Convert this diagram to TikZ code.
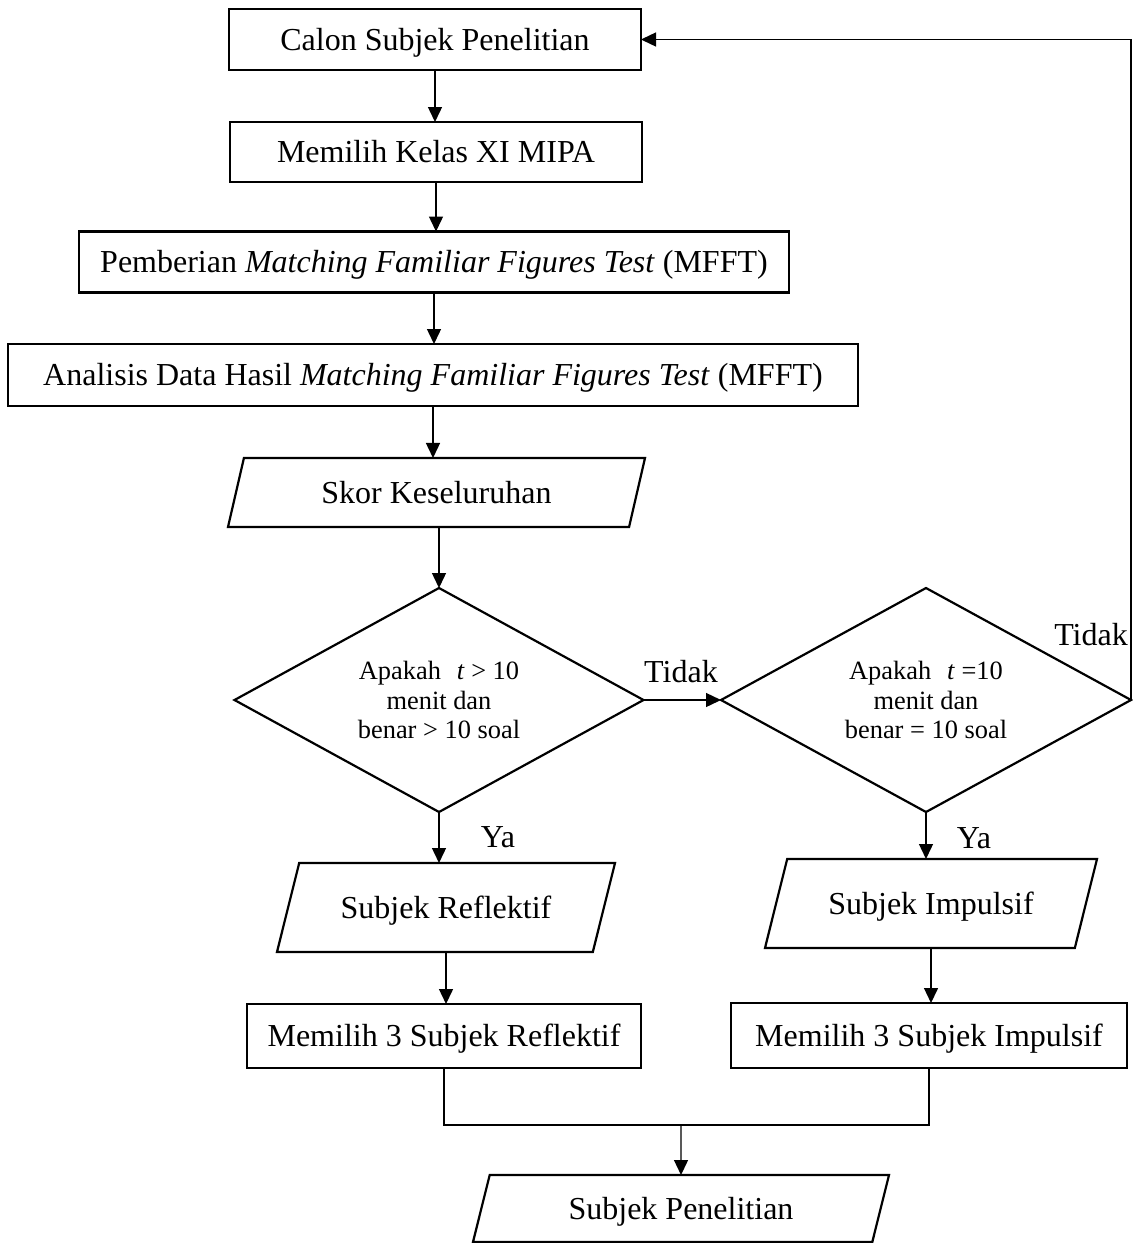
\documentclass[tikz,border=0pt]{standalone}
\usepackage{fontspec}
\setmainfont{Liberation Serif}
\usetikzlibrary{shapes.geometric,arrows.meta}
\newcommand{\boxfont}{\fontsize{32}{36}\selectfont}
\newcommand{\askfont}{\fontsize{26.4}{29.5}\selectfont}

\begin{document}
\begin{tikzpicture}[x=1pt,y=-1pt,
  base/.style={draw, line width=2.2pt, inner sep=0pt, outer sep=0pt,
    font=\boxfont, text height=21pt, text depth=0pt},
  procbox/.style={base, rectangle},
  iobox/.style={base, trapezium, trapezium stretches body=true,
    trapezium left angle=76, trapezium right angle=104},
  decision/.style={diamond, draw, line width=2.2pt, inner sep=0pt, outer sep=0pt,
    font=\askfont, align=center, shape aspect=1.8},
  flow/.style={line width=1.4pt, -{Triangle[length=15pt,width=14pt]}},
  link/.style={line width=1.4pt},
  lbl/.style={font=\boxfont, inner sep=0pt}
]
\useasboundingbox (0,0) rectangle (1133,1243);

% main column
\node[procbox, minimum width=412pt, minimum height=61pt] (calon) at (435,39.5) {Calon Subjek Penelitian};
\node[procbox, minimum width=412pt, minimum height=60pt] (kelas) at (436,152) {Memilih Kelas XI MIPA};
\node[procbox, minimum width=710pt, minimum height=61pt] (beri) at (434,262) {Pemberian \textit{Matching Familiar Figures Test} (MFFT)};
\node[procbox, minimum width=850pt, minimum height=62pt] (analisis) at (433,375) {Analisis Data Hasil \textit{Matching Familiar Figures Test} (MFFT)};
\node[iobox, trapezium left angle=77, trapezium right angle=103,
      inner ysep=24pt, minimum width=417pt] (skor) at (436.5,492.5) {Skor Keseluruhan};

% decisions
\node[decision, minimum width=409pt, minimum height=224pt] (cekR) at (439,700)
  {Apakah\hspace{0.6em}\textit{t} > 10\\menit dan\\benar > 10 soal};
\node[decision, minimum width=410pt, minimum height=224pt] (cekI) at (926,700)
  {Apakah\hspace{0.6em}\textit{t} =10\\menit dan\\benar = 10 soal};

% results
\node[iobox, inner ysep=34pt, minimum width=338pt] (refl) at (446,907.5) {Subjek Reflektif};
\node[iobox, inner ysep=34pt, minimum width=332pt] (imp) at (931,903.5) {Subjek Impulsif};
\node[procbox, minimum width=394pt, minimum height=64pt] (pilR) at (444,1036) {Memilih 3 Subjek Reflektif};
\node[procbox, minimum width=396pt, minimum height=65pt] (pilI) at (929,1035.5) {Memilih 3 Subjek Impulsif};
\node[iobox, inner ysep=23pt, minimum width=416pt] (subjek) at (681,1208.5) {Subjek Penelitian};

% labels
\node[lbl] (tidak1) at (681,672) {Tidak};
\node[lbl] (tidak2) at (1091,635) {Tidak};
\node[lbl] (ya1) at (498,837) {Ya};
\node[lbl] (ya2) at (974,838) {Ya};

% connectors
\draw[flow] (calon.south) -- (calon.south |- kelas.north);
\draw[flow] (kelas.south) -- (kelas.south |- beri.north);
\draw[flow] (beri.south) -- (beri.south |- analisis.north);
\draw[flow] (analisis.south) -- (analisis.south |- skor.north);
\draw[flow] (skor.south -| cekR.north) -- (cekR.north);
\draw[flow] (cekR.east) -- (cekI.west);
\draw[flow] (cekI.east) |- (calon.east);
\draw[flow] (cekR.south) -- (cekR.south |- refl.north);
\draw[flow] (cekI.south) -- (cekI.south |- imp.north);
\draw[flow] (refl.south) -- (refl.south |- pilR.north);
\draw[flow] (imp.south) -- (imp.south |- pilI.north);
\coordinate (gabung) at (681,1125);
\draw[link] (pilR.south) |- (gabung) -| (pilI.south);
\draw[flow] (gabung) -- (subjek.north);
\end{tikzpicture}
\end{document}
